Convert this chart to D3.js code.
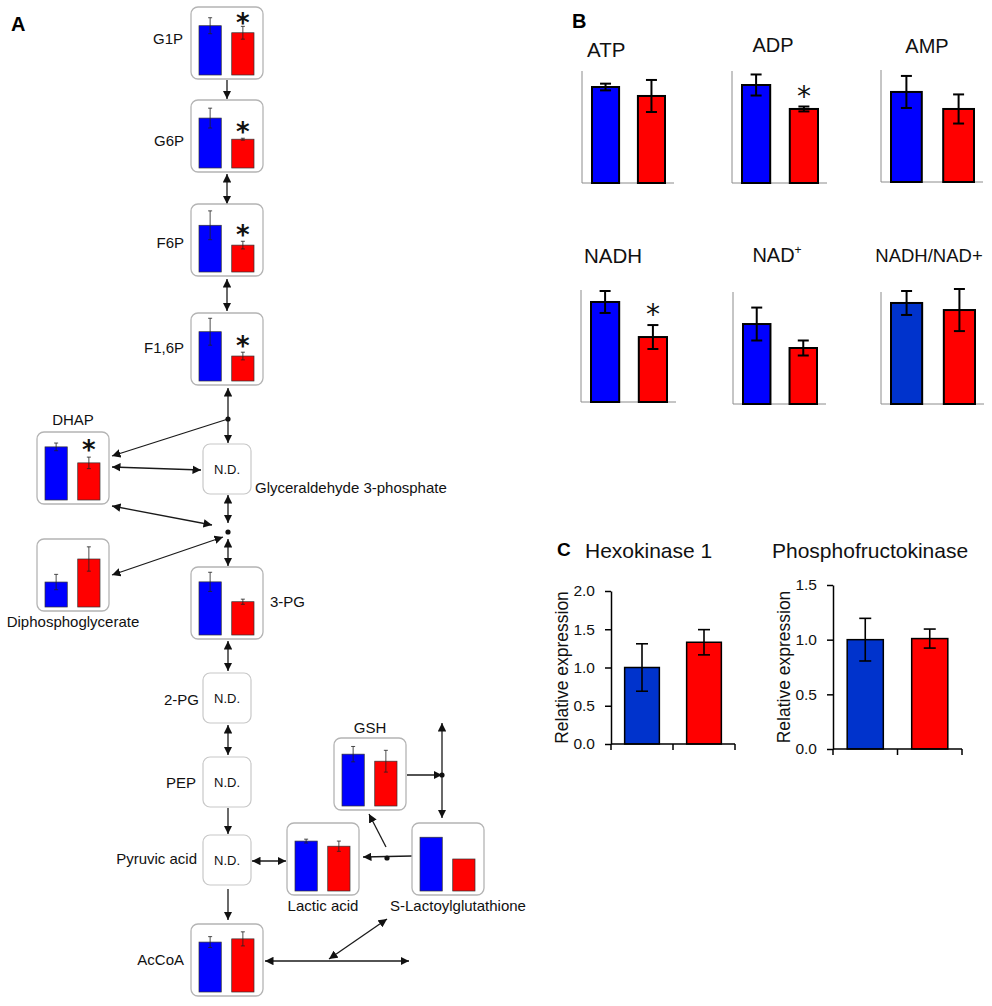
<!DOCTYPE html>
<html>
<head>
<meta charset="utf-8">
<script src="https://cdn.jsdelivr.net/npm/d3@7"></script>
<style>
  body { margin: 0; background: #fff; }
  svg { display: block; font-family: "Liberation Sans", Arial, sans-serif; }
</style>
</head>
<body>
<script>
// ---- data: panel A (relative metabolite levels, bar height as fraction of box) ----
const groups = ["Control", "Treated"];
const metabolites = ["G1P", "G6P", "F6P", "F1,6P", "DHAP", "Diphosphoglycerate", "3-PG",
                     "GSH", "Lactic acid", "S-Lactoylglutathione", "AcCoA"];
const metControl    = [0.77, 0.78, 0.73, 0.77, 0.83, 0.39, 0.83, 0.81, 0.78, 0.84, 0.78];
const metControlErr = [0.125, 0.155, 0.225, 0.21, 0.06, 0.12, 0.15, 0.12, 0.03, 0, 0.085];
const metTreated    = [0.66, 0.45, 0.42, 0.39, 0.58, 0.75, 0.52, 0.70, 0.70, 0.50, 0.83];
const metTreatedErr = [0.10, 0.015, 0.06, 0.06, 0.09, 0.19, 0.04, 0.17, 0.08, 0, 0.11];
const metSignificant = ["G1P", "G6P", "F6P", "F1,6P", "DHAP"];
const notDetected = ["Glyceraldehyde 3-phosphate", "2-PG", "PEP", "Pyruvic acid"];

// ---- data: panel B ----
const energyNames      = ["ATP", "ADP", "AMP", "NADH", "NAD+", "NADH/NAD+"];
const energyControl    = [0.857, 0.875, 0.804, 0.893, 0.714, 0.902];
const energyControlErr = [0.03, 0.094, 0.143, 0.098, 0.147, 0.107];
const energyTreated    = [0.777, 0.661, 0.652, 0.58, 0.50, 0.839];
const energyTreatedErr = [0.143, 0.022, 0.13, 0.107, 0.067, 0.188];
const energySignificant = ["ADP", "NADH"];

// ---- data: panel C ----
const enzymeNames      = ["Hexokinase 1", "Phosphofructokinase"];
const enzymeControl    = [1.0, 1.0];
const enzymeControlErr = [0.31, 0.195];
const enzymeTreated    = [1.33, 1.01];
const enzymeTreatedErr = [0.165, 0.087];
const enzymeTicks      = [[0, 0.5, 1.0, 1.5, 2.0], [0, 0.5, 1.0, 1.5]];

// ---- layout ----
const W = 992, H = 1006;
const BLUE = "#0000ff", RED = "#ff0000", DARKBLUE = "#0033cc";

const boxA = {
  "G1P":                  { x: 191, y: 7,   lx: 183, ly: 44,  anchor: "end" },
  "G6P":                  { x: 191, y: 100, lx: 184, ly: 146, anchor: "end" },
  "F6P":                  { x: 191, y: 204, lx: 184, ly: 248, anchor: "end" },
  "F1,6P":                { x: 191, y: 313, lx: 184, ly: 353, anchor: "end" },
  "DHAP":                 { x: 37,  y: 432, lx: 73,  ly: 425, anchor: "middle" },
  "Diphosphoglycerate":   { x: 37,  y: 539, lx: 73,  ly: 627, anchor: "middle" },
  "3-PG":                 { x: 191, y: 567, lx: 270, ly: 607, anchor: "start" },
  "GSH":                  { x: 334, y: 738, lx: 370, ly: 733, anchor: "middle" },
  "Lactic acid":          { x: 287, y: 823, lx: 323, ly: 911, anchor: "middle" },
  "S-Lactoylglutathione": { x: 412, y: 823, lx: 458, ly: 911, anchor: "middle" },
  "AcCoA":                { x: 191, y: 924, lx: 184, ly: 965, anchor: "end" }
};
const boxND = {
  "Glyceraldehyde 3-phosphate": { x: 203, y: 444, lx: 255, ly: 493, anchor: "start" },
  "2-PG":                       { x: 203, y: 673, lx: 199, ly: 705, anchor: "end" },
  "PEP":                        { x: 203, y: 757, lx: 196, ly: 788, anchor: "end" },
  "Pyruvic acid":               { x: 203, y: 835, lx: 197, ly: 864, anchor: "end" }
};
// pathway connectors: x1, y1, x2, y2, heads
const arrows = [
  [227, 80, 227, 99, "end"],
  [227, 174, 227, 204, "both"],
  [227, 279, 227, 311, "both"],
  [228, 388, 228, 443, "both"],
  [228, 419, 112, 456, "end"],
  [112, 467, 201, 470, "both"],
  [112, 506, 212, 525, "both"],
  [228, 495, 228, 523, "both"],
  [112, 575, 223, 537, "both"],
  [228, 539, 228, 566, "both"],
  [228, 641, 228, 671, "both"],
  [228, 725, 228, 755, "both"],
  [228, 808, 228, 834, "end"],
  [252, 861, 286, 861, "both"],
  [228, 889, 228, 920, "end"],
  [265, 961, 409, 961, "both"],
  [329, 959, 387, 919, "both"],
  [412, 856, 363, 857, "end"],
  [386, 847, 369, 814, "end"],
  [407, 775, 442, 775, "end"],
  [442, 723, 442, 818, "both"]
];
const dots = [[228, 419], [228, 532], [387, 858], [442, 775]];

const boxB = {
  "ATP":       { ax: 582, base: 183, w: 92,  tx: 587, ty: 57,  anchor: "start",  size: 20.5 },
  "ADP":       { ax: 732, base: 183, w: 95,  tx: 773, ty: 52,  anchor: "middle", size: 20 },
  "AMP":       { ax: 881, base: 182, w: 102, tx: 927, ty: 53,  anchor: "middle", size: 20 },
  "NADH":      { ax: 581, base: 402, w: 95,  tx: 584, ty: 263, anchor: "start",  size: 20.5 },
  "NAD+":      { ax: 733, base: 404, w: 93,  tx: 777, ty: 262, anchor: "middle", size: 20 },
  "NADH/NAD+": { ax: 881, base: 404, w: 103, tx: 929, ty: 262, anchor: "middle", size: 18.5 }
};
const boxC = [
  { ax: 611, top: 591, base: 744, right: 735, tx: 585, ty: 558, lx: 568 },
  { ax: 833, top: 585, base: 749, right: 962, tx: 772, ty: 558, lx: 790 }
];

const svg = d3.select("body").append("svg").attr("width", W).attr("height", H);
svg.append("rect").attr("width", W).attr("height", H).attr("fill", "#fff");

svg.append("defs").append("marker")
  .attr("id", "head")
  .attr("viewBox", "0 0 10 10")
  .attr("refX", 10).attr("refY", 5)
  .attr("markerUnits", "userSpaceOnUse")
  .attr("markerWidth", 8.5).attr("markerHeight", 8.5)
  .attr("orient", "auto-start-reverse")
  .append("path").attr("d", "M0,0L10,5L0,10z").attr("fill", "#111");

function star(g, cx, cy, size, weight) {
  g.append("text").attr("x", cx).attr("y", cy + size * 0.55)
    .attr("text-anchor", "middle").attr("font-size", size).attr("font-weight", weight)
    .attr("font-family", "DejaVu Sans").attr("fill", "#111").text("*");
}

function errorBars(g, data, x, y, cap, width, color) {
  const e = g.selectAll(null).data(data.filter(d => d.e > 0)).join("g")
    .attr("stroke", color).attr("stroke-width", width);
  e.append("line")
    .attr("x1", d => x(d.g) + x.bandwidth() / 2).attr("x2", d => x(d.g) + x.bandwidth() / 2)
    .attr("y1", d => y(d.v - d.e)).attr("y2", d => y(d.v + d.e));
  [-1, 1].forEach(s => e.append("line")
    .attr("x1", d => x(d.g) + x.bandwidth() / 2 - cap / 2).attr("x2", d => x(d.g) + x.bandwidth() / 2 + cap / 2)
    .attr("y1", d => y(d.v + s * d.e)).attr("y2", d => y(d.v + s * d.e)));
}

// ---------------- panel A ----------------
svg.append("text").attr("x", 11).attr("y", 31).attr("font-size", 20).attr("font-weight", "bold").text("A");

const linkG = svg.append("g").attr("stroke", "#1a1a1a").attr("stroke-width", 1.3).attr("fill", "none");
linkG.selectAll("line").data(arrows).join("line")
  .attr("x1", d => d[0]).attr("y1", d => d[1]).attr("x2", d => d[2]).attr("y2", d => d[3])
  .attr("marker-end", "url(#head)")
  .attr("marker-start", d => d[4] === "both" ? "url(#head)" : null);
svg.append("g").selectAll("circle").data(dots).join("circle")
  .attr("cx", d => d[0]).attr("cy", d => d[1]).attr("r", 2.6).attr("fill", "#111");

notDetected.forEach(name => {
  const b = boxND[name];
  svg.append("rect").attr("x", b.x).attr("y", b.y).attr("width", 48).attr("height", 50).attr("rx", 7)
    .attr("fill", "#fff").attr("stroke", "#c8c8c8").attr("stroke-width", 1.2);
  svg.append("text").attr("x", b.x + 24).attr("y", b.y + 30).attr("text-anchor", "middle")
    .attr("font-size", 13).attr("fill", "#111").text("N.D.");
  svg.append("text").attr("x", b.lx).attr("y", b.ly).attr("text-anchor", b.anchor)
    .attr("font-size", 15).attr("fill", "#111").text(name);
});

const xA = d3.scaleBand().domain(groups).range([8, 63]).paddingInner(0.32);
const yA = d3.scaleLinear().domain([0, 1]).range([68, 4]);
metabolites.forEach((name, i) => {
  const b = boxA[name];
  const g = svg.append("g").attr("transform", `translate(${b.x},${b.y})`);
  g.append("rect").attr("width", 72).attr("height", 72).attr("rx", 7)
    .attr("fill", "#fff").attr("stroke", "#b4b4b4").attr("stroke-width", 1.3);
  const data = [
    { g: "Control", v: metControl[i], e: metControlErr[i], c: BLUE },
    { g: "Treated", v: metTreated[i], e: metTreatedErr[i], c: RED }
  ];
  g.selectAll(".bar").data(data).join("rect").attr("class", "bar")
    .attr("x", d => xA(d.g)).attr("width", xA.bandwidth())
    .attr("y", d => yA(d.v)).attr("height", d => yA(0) - yA(d.v))
    .attr("fill", d => d.c).attr("stroke", "#333").attr("stroke-width", 0.7);
  errorBars(g, data, xA, yA, 4, 0.8, "#222");
  if (metSignificant.includes(name)) {
    const top = yA(metTreated[i] + metTreatedErr[i]);
    star(g, xA("Treated") + xA.bandwidth() / 2, Math.max(11, top - 12), 26, "bold");
  }
  svg.append("text").attr("x", b.lx).attr("y", b.ly).attr("text-anchor", b.anchor)
    .attr("font-size", 15).attr("fill", "#111").text(name);
});

// ---------------- panel B ----------------
svg.append("text").attr("x", 572).attr("y", 28).attr("font-size", 20).attr("font-weight", "bold").text("B");

energyNames.forEach((name, i) => {
  const b = boxB[name];
  const g = svg.append("g");
  const x = d3.scaleBand().domain(groups).range([b.ax + 10, b.ax + b.w - 9]).paddingInner(0.41);
  const y = d3.scaleLinear().domain([0, 1]).range([b.base, b.base - 112]);
  g.append("path").attr("d", `M${b.ax},${y(1)}V${b.base}H${b.ax + b.w}`)
    .attr("fill", "none").attr("stroke", "#8c8c8c").attr("stroke-width", 1);
  const data = [
    { g: "Control", v: energyControl[i], e: energyControlErr[i], c: name === "NADH/NAD+" ? DARKBLUE : BLUE },
    { g: "Treated", v: energyTreated[i], e: energyTreatedErr[i], c: RED }
  ];
  g.selectAll(".bar").data(data).join("rect").attr("class", "bar")
    .attr("x", d => x(d.g)).attr("width", x.bandwidth())
    .attr("y", d => y(d.v)).attr("height", d => y(0) - y(d.v))
    .attr("fill", d => d.c).attr("stroke", "#000").attr("stroke-width", 2);
  errorBars(g, data, x, y, 11, 2, "#000");
  if (energySignificant.includes(name)) {
    star(g, x("Treated") + x.bandwidth() / 2, y(energyTreated[i] + energyTreatedErr[i]) - 16, 28, "normal");
  }
  const t = g.append("text").attr("x", b.tx).attr("y", b.ty).attr("text-anchor", b.anchor)
    .attr("font-size", b.size).attr("fill", "#111");
  if (name === "NAD+") {
    t.append("tspan").text("NAD");
    t.append("tspan").attr("font-size", 12).attr("dy", -8).text("+");
  } else {
    t.text(name);
  }
});

// ---------------- panel C ----------------
svg.append("text").attr("x", 557).attr("y", 556).attr("font-size", 19).attr("font-weight", "bold").text("C");

enzymeNames.forEach((name, i) => {
  const b = boxC[i];
  const ticks = enzymeTicks[i];
  const g = svg.append("g");
  const y = d3.scaleLinear().domain([0, d3.max(ticks)]).range([b.base, b.top]);
  const x = d3.scaleBand().domain(groups).range([b.ax, b.right]).paddingInner(0.44).paddingOuter(0.22);

  const data = [
    { g: "Control", v: enzymeControl[i], e: enzymeControlErr[i], c: DARKBLUE },
    { g: "Treated", v: enzymeTreated[i], e: enzymeTreatedErr[i], c: RED }
  ];
  g.selectAll(".bar").data(data).join("rect").attr("class", "bar")
    .attr("x", d => x(d.g)).attr("width", x.bandwidth())
    .attr("y", d => y(d.v)).attr("height", d => y(0) - y(d.v))
    .attr("fill", d => d.c).attr("stroke", "#000").attr("stroke-width", 1.5);
  errorBars(g, data, x, y, 12, 1.6, "#000");

  const yAxis = g.append("g").attr("transform", `translate(${b.ax},0)`)
    .call(d3.axisLeft(y).tickValues(ticks).tickFormat(d3.format(".1f")).tickSize(6).tickSizeOuter(0).tickPadding(10));
  yAxis.selectAll("text").attr("font-size", 15.5).attr("font-family", "Liberation Sans, Arial, sans-serif").attr("fill", "#111");
  yAxis.selectAll("line, path").attr("stroke", "#000").attr("stroke-width", 1.5);

  const xTicks = [0, 1, 2].map(k => b.ax + k * (b.right - b.ax) / 2);
  g.append("line").attr("x1", b.ax).attr("x2", b.right).attr("y1", b.base).attr("y2", b.base)
    .attr("stroke", "#000").attr("stroke-width", 1.5);
  g.selectAll(".xt").data(xTicks).join("line").attr("class", "xt")
    .attr("x1", d => d).attr("x2", d => d).attr("y1", b.base).attr("y2", b.base + 6)
    .attr("stroke", "#000").attr("stroke-width", 1.5);

  g.append("text").attr("x", b.tx).attr("y", b.ty).attr("font-size", 21).attr("fill", "#111").text(name);
  g.append("text").attr("transform", `translate(${b.lx},${(b.top + b.base) / 2}) rotate(-90)`)
    .attr("text-anchor", "middle").attr("font-size", 17.5).attr("fill", "#111").text("Relative expression");
});
</script>
</body>
</html>
